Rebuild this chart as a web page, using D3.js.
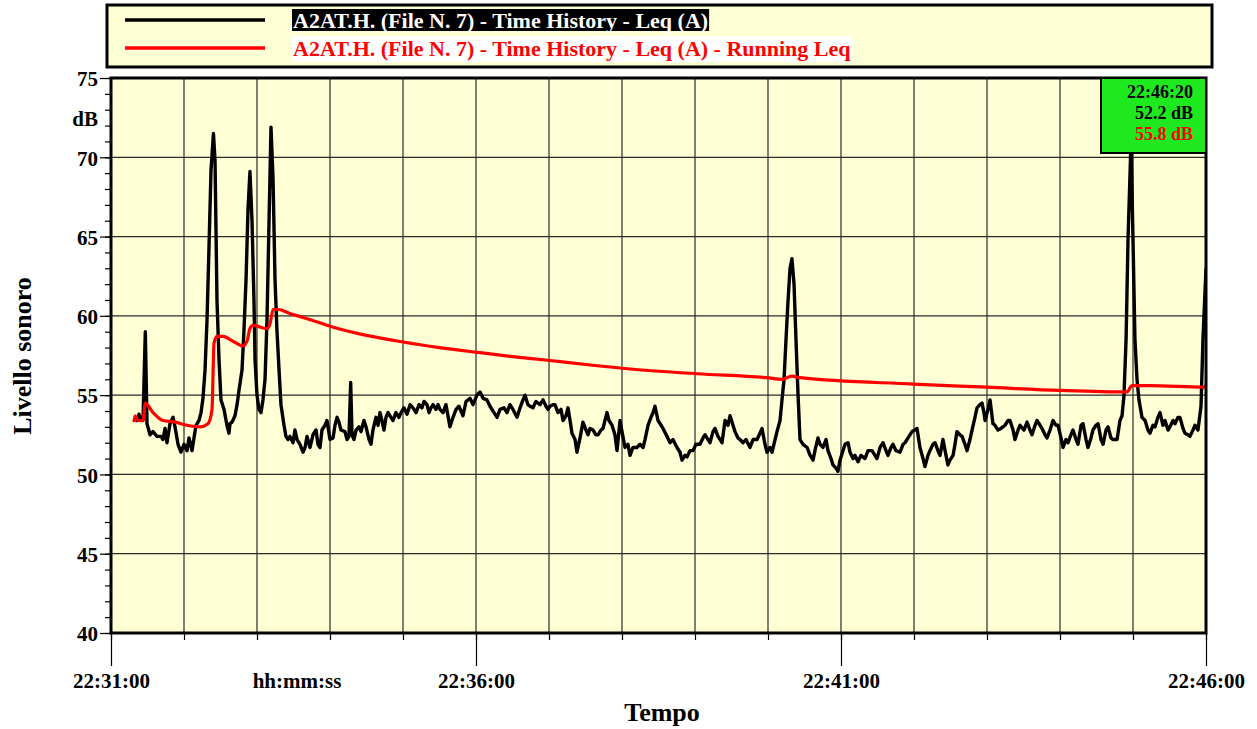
<!DOCTYPE html>
<html><head><meta charset="utf-8">
<script src="https://cdn.jsdelivr.net/npm/d3@7"></script>
<style>
body{margin:0;background:#fff}
text{font-family:"Liberation Serif","Times New Roman",serif;font-weight:bold}
</style>
</head><body>
<svg id="c" width="1257" height="729"></svg>
<script>
// ---------- DATA ----------
const seriesNames = ["A2AT.H. (File N. 7) - Time History - Leq (A)",
                     "A2AT.H. (File N. 7) - Time History - Leq (A) - Running Leq"];
const yTicks = [40,45,50,55,60,65,70,75];
const xTickSeconds = [0,300,600,900];
const xTickLabels = ["22:31:00","22:36:00","22:41:00","22:46:00"];
const cursorLabels = ["22:46:20","52.2 dB","55.8 dB"];
// [seconds after 22:31:00, dB]
const leqSeries = [[19.7,53.6],[21.4,53.4],[23.0,53.8],[24.7,53.4],[26.3,53.4],[28.2,59.0],[29.6,53.2],[32.1,52.5],[34.5,52.7],[37.8,52.4],
[41.1,52.4],[42.7,52.2],[44.4,52.9],[46.0,52.0],[48.5,53.2],[51.0,53.6],[52.6,53.0],[55.1,51.9],[57.5,51.4],[60.0,51.9],
[62.5,51.5],[64.1,52.3],[66.6,51.5],[68.2,52.3],[69.9,53.1],[72.3,53.4],[74.0,53.9],[75.6,54.8],[77.3,56.6],[78.9,59.7],
[80.5,64.2],[82.2,69.2],[84.2,71.5],[85.5,69.8],[86.3,65.4],[87.1,61.0],[88.8,57.2],[90.4,54.7],[92.9,54.1],[95.3,53.1],
[97.0,52.6],[97.8,53.2],[99.5,53.3],[101.9,53.7],[103.6,54.4],[105.2,55.3],[107.7,56.6],[109.3,59.1],[111.0,62.3],[112.6,66.7],
[114.2,69.1],[115.9,66.0],[117.5,61.0],[118.4,57.2],[120.0,55.0],[121.6,54.1],[123.3,53.9],[124.9,54.7],[126.6,56.0],[128.2,59.7],
[129.9,66.0],[131.5,71.9],[133.2,68.6],[134.8,62.3],[136.4,59.1],[138.1,56.6],[139.7,54.4],[142.2,53.1],[143.8,52.4],[145.5,52.2],
[147.1,52.4],[149.6,52.0],[151.2,52.8],[152.9,52.2],[155.3,51.9],[157.8,51.4],[159.5,51.7],[161.1,52.4],[163.6,51.7],[166.0,52.5],
[168.5,52.8],[170.1,51.9],[171.8,51.7],[173.4,52.8],[175.9,53.1],[177.5,53.4],[180.0,52.2],[182.5,52.3],[184.1,53.1],[185.8,53.6],
[187.4,53.3],[189.0,52.8],[192.3,52.7],[194.0,52.2],[195.6,52.4],[197.0,55.8],[198.1,52.5],[199.7,52.2],[201.4,52.8],[203.8,53.0],
[205.5,52.7],[207.9,53.4],[209.6,53.0],[212.1,52.2],[213.7,51.9],[215.3,52.8],[217.8,53.6],[219.5,53.1],[221.1,53.9],[222.7,53.4],
[224.4,52.8],[226.0,53.6],[227.7,53.9],[230.1,53.6],[231.8,53.4],[234.2,53.9],[236.7,53.6],[238.4,53.9],[240.8,54.2],[243.3,53.8],
[245.8,54.4],[248.2,54.2],[250.7,53.9],[253.2,54.4],[255.6,54.2],[257.3,54.6],[259.7,54.4],[261.4,53.9],[263.0,54.2],[264.7,54.4],
[267.1,54.1],[268.8,54.4],[270.4,54.1],[272.9,53.9],[275.3,54.4],[278.6,53.0],[281.1,53.6],[283.6,54.1],[286.0,54.3],[289.3,53.7],
[291.8,54.6],[295.1,54.8],[297.5,54.4],[300.8,55.0],[303.3,55.2],[305.8,54.8],[309.0,54.7],[311.5,54.3],[314.8,53.9],[317.3,53.6],
[319.7,54.1],[323.0,54.2],[325.5,53.9],[327.9,54.4],[330.4,54.1],[333.7,53.6],[336.2,54.2],[338.6,54.7],[340.3,55.0],[342.7,54.4],
[344.4,54.3],[346.8,54.2],[349.3,54.6],[352.6,54.4],[355.1,54.7],[357.5,54.3],[359.2,54.1],[360.8,54.3],[363.3,54.4],[364.9,54.4],
[367.4,53.9],[369.9,54.1],[371.5,53.4],[374.0,53.7],[375.6,54.2],[377.3,53.4],[378.9,52.6],[381.4,52.2],[383.0,51.4],[385.5,52.3],
[387.9,53.3],[390.4,52.8],[392.1,52.5],[393.7,52.9],[396.2,52.8],[398.6,52.5],[400.3,52.5],[402.7,52.8],[404.4,52.9],[406.0,53.4],
[407.7,53.9],[409.3,53.4],[411.8,53.1],[414.2,52.5],[415.9,51.5],[418.4,53.4],[420.0,52.7],[422.5,51.7],[424.9,51.9],[426.6,51.2],
[429.0,51.7],[432.3,51.7],[434.8,51.9],[437.3,51.7],[438.9,52.2],[441.4,53.1],[443.8,53.6],[445.5,53.9],[447.1,54.3],[448.8,53.7],
[449.6,53.4],[452.1,53.1],[453.7,52.9],[457.0,52.4],[459.5,52.0],[461.9,52.2],[465.2,51.7],[467.7,51.4],[469.3,50.9],[471.8,51.2],
[473.4,51.1],[475.9,51.5],[478.4,51.5],[480.8,51.9],[484.1,51.9],[486.6,52.3],[488.2,52.5],[490.7,52.2],[492.3,52.0],[494.8,52.7],
[496.4,52.9],[498.9,52.4],[502.2,52.0],[504.7,53.4],[507.1,53.1],[508.8,53.7],[511.2,53.1],[512.9,52.7],[515.3,52.3],[517.0,52.2],
[519.5,52.0],[521.9,52.2],[525.2,51.7],[527.7,52.2],[531.0,52.2],[533.4,52.6],[535.1,52.9],[537.5,51.9],[539.2,51.4],[541.6,51.7],
[543.3,51.4],[545.8,52.2],[547.4,52.7],[549.9,53.4],[551.5,54.7],[553.2,56.0],[554.8,58.5],[556.5,61.0],[558.1,63.0],[559.7,63.6],
[561.4,62.0],[563.0,58.5],[564.7,55.0],[566.3,52.2],[568.8,51.9],[572.1,51.7],[574.6,51.2],[577.0,50.9],[578.6,51.5],[581.1,52.3],
[582.8,51.9],[585.2,51.7],[587.7,52.2],[589.3,51.5],[591.8,51.0],[593.4,50.6],[595.9,50.4],[597.5,50.2],[599.2,50.9],[601.6,51.5],
[603.3,51.9],[605.8,52.0],[607.4,51.4],[609.9,51.0],[611.5,51.2],[614.0,50.8],[616.4,51.2],[619.7,51.0],[622.2,51.5],[625.5,51.5],
[627.9,51.2],[629.6,51.0],[632.1,51.7],[634.5,52.0],[637.0,51.5],[638.6,51.2],[641.1,51.7],[642.7,51.9],[645.2,51.5],[648.5,51.4],
[651.0,51.9],[652.6,52.0],[655.1,52.3],[658.4,52.7],[660.8,52.8],[662.5,52.9],[664.9,51.7],[667.4,51.0],[669.0,50.5],[671.5,51.2],
[673.1,51.5],[675.6,51.9],[677.3,52.0],[679.7,51.5],[681.4,51.2],[683.8,52.2],[686.3,51.2],[687.9,50.6],[689.6,50.9],[692.1,51.2],
[693.7,51.9],[695.3,52.7],[697.8,52.5],[699.5,52.4],[701.9,51.9],[703.6,51.5],[706.0,52.2],[707.7,52.8],[710.1,53.6],[711.8,54.2],
[714.2,54.4],[715.9,54.5],[717.5,53.9],[718.4,53.4],[720.8,54.1],[722.5,54.7],[724.9,53.2],[726.6,53.1],[729.0,52.8],[731.5,52.9],
[734.8,53.1],[737.3,53.4],[738.9,53.4],[741.4,52.8],[743.0,52.2],[745.5,52.8],[747.1,53.1],[750.4,52.8],[752.9,53.3],[755.3,52.8],
[757.0,52.5],[759.5,53.1],[761.1,53.4],[763.6,53.1],[765.2,52.9],[767.7,52.5],[769.3,52.3],[771.8,52.8],[774.3,53.4],[776.7,53.1],
[778.4,53.1],[780.8,52.3],[782.5,51.7],[784.9,52.2],[786.6,52.0],[789.0,52.5],[790.7,52.8],[793.2,52.2],[794.8,51.9],[797.3,53.1],
[798.9,53.2],[801.4,52.2],[803.0,51.7],[805.5,52.3],[807.1,52.8],[809.6,53.1],[811.3,53.2],[813.7,52.2],[815.4,51.9],[817.8,52.8],
[819.5,53.0],[821.9,52.3],[823.6,52.2],[826.9,52.2],[829.3,53.4],[831.0,53.7],[832.6,55.0],[834.3,58.5],[835.9,64.8],[838.4,71.1],
[840.0,64.8],[841.6,58.5],[843.3,56.0],[844.9,54.7],[847.4,53.6],[849.9,53.4],[852.3,52.8],[854.0,52.6],[856.4,53.1],[858.1,53.0],
[860.5,53.6],[862.2,53.9],[864.6,53.1],[866.3,53.4],[868.8,52.8],[870.4,53.0],[872.9,53.4],[874.5,53.2],[877.0,53.6],[878.6,53.6],
[881.1,52.9],[882.7,52.6],[885.2,52.5],[886.8,52.4],[889.3,52.8],[891.0,53.1],[893.4,52.8],[895.9,54.3],[897.5,58.5],[900.0,63.0]];
const runningLeqSeries = [[18.9,53.3],[19.7,53.7],[22.2,53.4],[26.3,53.4],[28.2,54.5],[34.5,53.9],[42.7,53.4],[52.6,53.3],[62.5,53.1],[73.2,53.0],
[79.7,53.2],[83.0,54.1],[84.7,58.3],[87.1,58.7],[92.1,58.7],[100.3,58.4],[108.5,58.1],[111.8,58.4],[114.2,59.2],[116.7,59.4],
[128.2,59.2],[130.7,59.5],[133.2,60.4],[137.3,60.4],[147.0,60.15],[160.0,59.85],[182.0,59.3],[205.0,58.85],[240.0,58.35],[270.0,58.0],
[301.0,57.7],[328.0,57.45],[359.0,57.2],[394.0,56.9],[427.0,56.65],[482.0,56.35],[539.0,56.1],[552.3,56.0],[555.6,56.1],
[559.7,56.2],[566.3,56.1],[659.2,55.7],[720.0,55.5],[780.0,55.3],[835.1,55.2],[839.2,55.6],[854.0,55.6],[898.4,55.5],[900.0,55.6]];

// ---------- CHART ----------
const svg = d3.select("#c");
const P = {left:111, right:1206, top:78, bottom:633};
const x = d3.scaleLinear().domain([0,900]).range([P.left,P.right]);
const y = d3.scaleLinear().domain([40,75]).range([P.bottom,P.top]);
const bg = "#ffffd6";

// legend
svg.append("rect").attr("x",107).attr("y",5).attr("width",1105).attr("height",62)
  .attr("fill",bg).attr("stroke","#000").attr("stroke-width",3);
const legColors = ["#000","#ff0000"];
const legBg = ["#000","#fff"];
const legTxt = ["#fff","#ff0000"];
seriesNames.forEach((n,i)=>{
  const cy = 20 + i*28;
  svg.append("line").attr("x1",125).attr("x2",265).attr("y1",cy).attr("y2",cy)
    .attr("stroke",legColors[i]).attr("stroke-width",3.5);
  const g = svg.append("g");
  const r = g.append("rect");
  const t = g.append("text").attr("x",293).attr("y",cy+7.5).attr("font-size",22)
    .attr("fill",legTxt[i]).text(n);
  const bb = t.node().getBBox();
  r.attr("x",bb.x-1).attr("y",i?36:9).attr("width",bb.width+2).attr("height",i?26:22).attr("fill",legBg[i]);
});

// plot background
svg.append("rect").attr("x",P.left).attr("y",P.top).attr("width",P.right-P.left).attr("height",P.bottom-P.top)
  .attr("fill",bg);

// grid
const grid = svg.append("g").attr("stroke","#2a2a2a").attr("stroke-width",1.2);
d3.range(60,900,60).forEach(s=>{
  grid.append("line").attr("x1",x(s)).attr("x2",x(s)).attr("y1",P.top).attr("y2",P.bottom);
});
yTicks.filter(v=>v>40&&v<75).forEach(v=>{
  grid.append("line").attr("x1",P.left).attr("x2",P.right).attr("y1",y(v)).attr("y2",y(v));
});

// axes
const yMinor = svg.append("g").attr("transform",`translate(${P.left},0)`)
  .call(d3.axisLeft(y).tickValues(d3.range(40,76,1)).tickSize(6).tickFormat(""));
const yMajor = svg.append("g").attr("transform",`translate(${P.left},0)`)
  .call(d3.axisLeft(y).tickValues(yTicks).tickSize(11).tickPadding(2).tickFormat(d3.format("d")));
const xMinor = svg.append("g").attr("transform",`translate(0,${P.bottom})`)
  .call(d3.axisBottom(x).tickValues(d3.range(0,901,60)).tickSize(7).tickFormat(""));
const xMajor = svg.append("g").attr("transform",`translate(0,${P.bottom})`)
  .call(d3.axisBottom(x).tickValues(xTickSeconds).tickSize(33).tickPadding(7)
    .tickFormat((d,i)=>xTickLabels[i]));
[yMinor,yMajor,xMinor,xMajor].forEach(a=>{
  a.select(".domain").remove();
  a.selectAll("line").attr("stroke","#000").attr("stroke-width",1.2);
  a.selectAll("text").attr("font-size",21).attr("fill","#000")
   .style("font-family",'"Liberation Serif","Times New Roman",serif').style("font-weight","bold");
});
yMajor.selectAll("text").attr("dy","0.37em");

// axis titles
svg.append("text").attr("x",98).attr("y",126).attr("text-anchor","end").attr("font-size",21).text("dB");
svg.append("text").attr("x",297).attr("y",688).attr("text-anchor","middle").attr("font-size",21).text("hh:mm:ss");
svg.append("text").attr("x",662).attr("y",721).attr("text-anchor","middle").attr("font-size",26).text("Tempo");
svg.append("text").attr("transform","translate(31,356) rotate(-90)").attr("text-anchor","middle")
  .attr("font-size",26).text("Livello sonoro");

// data
svg.append("clipPath").attr("id","clip").append("rect")
  .attr("x",P.left).attr("y",P.top).attr("width",P.right-P.left).attr("height",P.bottom-P.top);
const dataG = svg.append("g").attr("clip-path","url(#clip)");
dataG.append("path").datum(leqSeries)
  .attr("d",d3.line().x(d=>x(d[0])).y(d=>y(d[1])))
  .attr("fill","none").attr("stroke","#000").attr("stroke-width",3.4).attr("stroke-linejoin","round");
dataG.append("path").datum(runningLeqSeries)
  .attr("d",d3.line().curve(d3.curveMonotoneX).x(d=>x(d[0])).y(d=>y(d[1])))
  .attr("fill","none").attr("stroke","#ff0000").attr("stroke-width",3.2).attr("stroke-linejoin","round");

// frame
svg.append("rect").attr("x",P.left).attr("y",P.top).attr("width",P.right-P.left).attr("height",P.bottom-P.top)
  .attr("fill","none").attr("stroke","#000").attr("stroke-width",3);

// cursor box
svg.append("rect").attr("x",1101).attr("y",P.top).attr("width",P.right-1101).attr("height",75)
  .attr("fill","#1ee81e").attr("stroke","#000").attr("stroke-width",2);
cursorLabels.forEach((c,i)=>{
  svg.append("text").attr("x",1193).attr("y",98+i*21).attr("text-anchor","end").attr("font-size",18)
    .attr("fill",i===2?"#ff0000":"#000").text(c);
});
</script>
</body></html>
